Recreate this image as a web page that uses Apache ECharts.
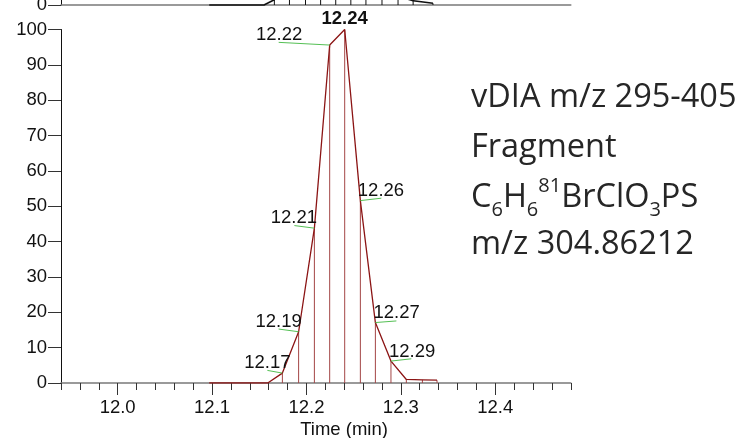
<!DOCTYPE html>
<html>
<head>
<meta charset="utf-8">
<script src="https://cdn.jsdelivr.net/npm/echarts@6/dist/echarts.min.js"></script>
<style>
  html, body { margin: 0; padding: 0; background: #fff; }
  #chart { width: 745px; height: 438px; }
</style>
</head>
<body>
<div id="chart"></div>
<script>
// Extracted ion chromatogram, m/z 304.86212 (retention time in min, relative abundance)
const rtTimes   = [12.097, 12.113, 12.129, 12.145, 12.159, 12.1745, 12.1917, 12.2084, 12.2246, 12.2405, 12.2571, 12.2730, 12.2895, 12.3058, 12.3228, 12.3383];
const rtValues  = [0, 0, 0, 0, 0, 2.8, 14.5, 43.8, 95.6, 100, 51.6, 17.1, 6.2, 1.0, 0.9, 0.8];
// scans that carry an apex/RT label
const labelledScans = [5, 6, 7, 8, 9, 10, 11, 12];
const apexScan = 9;

// trace of the panel stacked above (only its baseline edge is in view)
const upperTimes  = [12.097, 12.113, 12.130, 12.146, 12.155, 12.166, 12.182, 12.199, 12.215, 12.231, 12.247, 12.263, 12.280, 12.297, 12.313, 12.334];
const upperValues = [0, 0, 0, 0, 0, 1.5, 16, 46, 94, 100, 52, 18, 7, 2.5, 1.2, 0.5];

const majorTicks = [12.0, 12.1, 12.2, 12.3, 12.4];
const infoLines = ['vDIA m/z 295-405', 'Fragment', null, 'm/z 304.86212'];

// label placement relative to each labelled scan: [leader dx, leader dy, text dx, text dy]
const labelLayout = {
  5:  [-15, -2.7, -15, -10],
  6:  [-20, -2.7, -20, -10],
  7:  [-20, -2.6, -20.5, -10.5],
  8:  [-51, -2.7, -50.5, -10.5],
  9:  [0, 0, 0, -11],
  10: [21, -2.4, 20.6, -9.7],
  11: [21, -1.6, 21.3, -9.4],
  12: [20.4, -2.3, 21.2, -9.3]
};

const FONT = '"Liberation Sans", Arial, sans-serif';
const TEXT_FONT = '"Open Sans", "Noto Sans", sans-serif';
const TEXT_SIZE = 32.5;
const curveColor = '#8b1414';
const dropColor = '#a34545';
const leaderColor = '#55c055';

const mainData = rtTimes.map((t, i) => [t, rtValues[i]]);
const upperData = upperTimes.map((t, i) => [t, upperValues[i]]);
const labelData = labelledScans.map(i => [rtTimes[i], rtValues[i], i]);

function dropLines(params, api) {
  const t = api.value(0), v = api.value(1);
  const top = api.coord([t, v]);
  const base = api.coord([t, 0]);
  return {
    type: 'line',
    shape: { x1: top[0], y1: top[1], x2: base[0], y2: base[1] },
    style: { stroke: params.seriesName === 'upperDrops' ? '#111' : dropColor, lineWidth: 1 }
  };
}

const chart = echarts.init(document.getElementById('chart'), null, { renderer: 'canvas' });

chart.setOption({
  animation: false,
  backgroundColor: '#fff',
  grid: [
    { left: 61, right: 174.2, top: 29.5, bottom: 55, outerBoundsMode: 'none', containLabel: false },
    { left: 61, right: 174.2, top: -348, bottom: 433, outerBoundsMode: 'none', containLabel: false }
  ],
  xAxis: [
    {
      gridIndex: 0, type: 'value', min: 11.94, max: 12.48, position: 'bottom',
      axisLine: { show: true, lineStyle: { color: '#7a7a7a', width: 1.5 } },
      axisTick: { show: true, customValues: majorTicks, length: 12, lineStyle: { color: '#333', width: 1 } },
      axisLabel: {
        show: true, customValues: majorTicks, margin: 15,
        formatter: v => v.toFixed(1),
        color: '#111', fontSize: 18.5, fontFamily: FONT
      },
      splitLine: { show: false }
    },
    {
      gridIndex: 0, type: 'value', min: 11.94, max: 12.48, interval: 0.02, position: 'bottom',
      axisLine: { show: false },
      axisTick: { show: true, length: 7, lineStyle: { color: '#333', width: 1 } },
      axisLabel: { show: false },
      splitLine: { show: false }
    },
    {
      gridIndex: 1, type: 'value', min: 11.94, max: 12.48, position: 'bottom',
      axisLine: { show: true, lineStyle: { color: '#7a7a7a', width: 1.5 } },
      axisTick: { show: false },
      axisLabel: { show: false },
      splitLine: { show: false }
    }
  ],
  yAxis: [
    {
      gridIndex: 0, type: 'value', min: 0, max: 100, interval: 10,
      axisLine: { show: true, lineStyle: { color: '#111', width: 1 } },
      axisTick: { show: true, length: 13, lineStyle: { color: '#333', width: 1 } },
      axisLabel: { color: '#111', fontSize: 18.5, fontFamily: FONT, margin: 14 },
      splitLine: { show: false }
    },
    {
      gridIndex: 1, type: 'value', min: 0, max: 100, interval: 100,
      axisLine: { show: true, lineStyle: { color: '#111', width: 1 } },
      axisTick: { show: true, length: 13, lineStyle: { color: '#333', width: 1 } },
      axisLabel: { color: '#111', fontSize: 18.5, fontFamily: FONT, margin: 14 },
      splitLine: { show: false }
    }
  ],
  series: [
    {
      name: 'upperDrops', type: 'custom', xAxisIndex: 2, yAxisIndex: 1,
      data: upperData, renderItem: dropLines, z: 3
    },
    {
      name: 'upper', type: 'line', xAxisIndex: 2, yAxisIndex: 1,
      data: upperData, showSymbol: false, symbol: 'none', clip: false,
      lineStyle: { color: '#111', width: 1.6 }, z: 4
    },
    {
      name: 'drops', type: 'custom', xAxisIndex: 0, yAxisIndex: 0,
      data: mainData, renderItem: dropLines, z: 3
    },
    {
      name: 'm/z 304.86212', type: 'line', xAxisIndex: 0, yAxisIndex: 0,
      data: mainData, showSymbol: false, symbol: 'none',
      lineStyle: { color: curveColor, width: 1.3 }, z: 4
    },
    {
      name: 'rtLabels', type: 'custom', xAxisIndex: 0, yAxisIndex: 0,
      data: labelData, z: 5,
      renderItem: (params, api) => {
        const t = api.value(0), v = api.value(1), scan = api.value(2);
        const p = api.coord([t, v]);
        const lay = labelLayout[scan];
        const children = [];
        if (scan !== apexScan) {
          children.push({
            type: 'line',
            shape: { x1: p[0], y1: p[1], x2: p[0] + lay[0], y2: p[1] + lay[1] },
            style: { stroke: leaderColor, lineWidth: 1 }
          });
        }
        children.push({
          type: 'text',
          x: p[0] + lay[2], y: p[1] + lay[3],
          style: {
            text: t.toFixed(2),
            fill: '#111',
            fontFamily: FONT,
            fontSize: 18.5,
            fontWeight: scan === apexScan ? 'bold' : 'normal',
            align: 'center', verticalAlign: 'middle'
          }
        });
        return { type: 'group', children };
      }
    }
  ],
  graphic: [
    {
      type: 'text', x: 344, y: 430,
      style: { text: 'Time (min)', fill: '#111', fontFamily: FONT, fontSize: 18.5, align: 'center', verticalAlign: 'middle' }
    },
    {
      type: 'text', x: 471, y: 98,
      style: { text: infoLines[0], fill: '#262626', fontFamily: TEXT_FONT, fontSize: TEXT_SIZE, align: 'left', verticalAlign: 'middle' }
    },
    {
      type: 'text', x: 471, y: 148,
      style: { text: infoLines[1], fill: '#262626', fontFamily: TEXT_FONT, fontSize: TEXT_SIZE, align: 'left', verticalAlign: 'middle' }
    },
    {
      type: 'text', x: 471, y: 198,
      style: {
        text: '{n|C}{b|6}{n|H}{b|6}{p|81}{n|BrClO}{b|3}{n|PS}',
        fill: '#262626', fontFamily: TEXT_FONT, fontSize: TEXT_SIZE, align: 'left', verticalAlign: 'middle',
        rich: {
          n: { fontSize: TEXT_SIZE, lineHeight: 44, fontFamily: TEXT_FONT, fill: '#262626' },
          b: { fontSize: 20, lineHeight: 20, verticalAlign: 'bottom', fontFamily: TEXT_FONT, fill: '#262626' },
          p: { fontSize: 20, lineHeight: 20, verticalAlign: 'top', fontFamily: TEXT_FONT, fill: '#262626' }
        }
      }
    },
    {
      type: 'text', x: 471, y: 244.5,
      style: { text: infoLines[3], fill: '#262626', fontFamily: TEXT_FONT, fontSize: TEXT_SIZE, align: 'left', verticalAlign: 'middle' }
    }
  ]
});
</script>
</body>
</html>
